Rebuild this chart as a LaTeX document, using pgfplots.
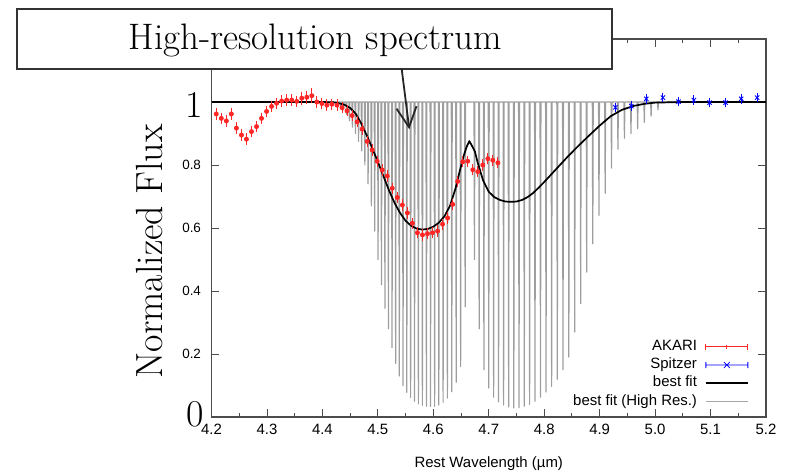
\documentclass[border=0pt]{standalone}
\usepackage{fontspec}
\usepackage{pgfplots}
\pgfplotsset{compat=1.18}
\usetikzlibrary{arrows.meta}
\newfontfamily\hv{Liberation Sans}
\pgfplotstableread{
x y e
4.2086 0.962 0.010
4.2177 0.948 0.010
4.2268 0.940 0.010
4.2358 0.962 0.011
4.2449 0.917 0.010
4.2540 0.895 0.010
4.2630 0.882 0.011
4.2721 0.906 0.010
4.2812 0.922 0.010
4.2902 0.948 0.010
4.2993 0.970 0.010
4.3084 0.986 0.010
4.3174 0.996 0.010
4.3265 1.003 0.010
4.3356 1.006 0.010
4.3447 1.006 0.010
4.3537 1.002 0.010
4.3628 1.012 0.013
4.3719 1.015 0.013
4.3809 1.020 0.015
4.3900 1.000 0.010
4.3991 0.995 0.010
4.4081 0.990 0.010
4.4172 0.993 0.010
4.4263 0.990 0.010
4.4354 0.982 0.010
4.4444 0.972 0.010
4.4535 0.957 0.010
4.4626 0.937 0.010
4.4716 0.914 0.010
4.4807 0.875 0.010
4.4898 0.848 0.010
4.4988 0.812 0.010
4.5079 0.784 0.010
4.5170 0.765 0.010
4.5260 0.726 0.010
4.5351 0.697 0.010
4.5442 0.673 0.010
4.5533 0.648 0.010
4.5623 0.615 0.010
4.5714 0.585 0.010
4.5805 0.578 0.010
4.5895 0.582 0.010
4.5986 0.585 0.010
4.6077 0.590 0.010
4.6167 0.612 0.010
4.6258 0.632 0.010
4.6349 0.675 0.010
4.6439 0.748 0.010
4.6530 0.810 0.010
4.6621 0.812 0.010
4.6712 0.785 0.010
4.6802 0.779 0.010
4.6893 0.800 0.010
4.6984 0.820 0.010
4.7074 0.815 0.010
4.7165 0.807 0.010
}\akari
\pgfplotstableread{
x y e
4.9283 0.983 0.007
4.9571 0.987 0.007
4.9841 1.010 0.007
5.0141 1.014 0.007
5.0423 1.001 0.007
5.0699 1.006 0.007
5.0982 0.998 0.007
5.1270 0.998 0.007
5.1553 1.010 0.007
5.1841 1.014 0.007
}\spitzer
\begin{document}
\begin{tikzpicture}
\useasboundingbox (-211.5bp,-54bp) rectangle (574.5bp,417bp);
\begin{axis}[
  at={(0,0)}, anchor=south west,
  scale only axis, width=554.5bp, height=378bp,
  xmin=4.2, xmax=5.2, ymin=0, ymax=1.2,
  xtick={4.2,4.3,4.4,4.5,4.6,4.7,4.8,4.9,5.0,5.1,5.2},
  xticklabels={4.2,4.3,4.4,4.5,4.6,4.7,4.8,4.9,5.0,5.1,5.2},
  minor xtick={4.25,4.35,4.45,4.55,4.65,4.75,4.85,4.95,5.05,5.15},
  ytick={0,0.2,0.4,0.6,0.8,1,1.2},
  yticklabels={{},0.2,0.4,0.6,0.8,{},{}},
  /pgf/number format/assume math mode=true,
  xticklabel style={font=\hv\fontsize{15}{17}\selectfont, yshift=-4bp},
  yticklabel style={font=\hv\fontsize{13.5}{15}\selectfont, xshift=-7bp},
  major tick length=8bp, minor tick length=4bp,
  axis line style={black!70, line width=1.1bp},
  tick style={black!70, line width=0.9bp},
  xlabel={Rest Wavelength (µm)},
  xlabel style={font=\hv\fontsize{15}{17}\selectfont, at={(axis description cs:0.5,0)}, anchor=base, yshift=-50bp},
  legend plot pos=right, legend cell align=right,
  legend style={draw=none, fill=none, at={(0.9693,0.2063)}, anchor=north east,
    font=\hv\fontsize{15}{17}\selectfont, row sep=3.3bp, column sep=7bp, inner sep=0pt,
    nodes={inner sep=1bp, text height=10bp, text depth=3bp}},
]
\addplot[black!38, line width=1.2bp, line join=round, line cap=round, forget plot] coordinates {
(4.2,1) (4.4271,1) (4.4279,0.990) (4.4287,1)
(4.4322,1) (4.4330,0.985) (4.4338,1)
(4.4374,1) (4.4382,0.975) (4.4390,1)
(4.4426,1) (4.4434,0.960) (4.4442,1)
(4.4479,1) (4.4487,0.940) (4.4495,1)
(4.4533,1) (4.4541,0.920) (4.4549,1)
(4.4588,1) (4.4596,0.900) (4.4604,1)
(4.4644,1) (4.4652,0.875) (4.4660,1)
(4.4700,1) (4.4708,0.845) (4.4716,1)
(4.4758,1) (4.4766,0.800) (4.4774,1)
(4.4816,1) (4.4824,0.740) (4.4832,1)
(4.4875,1) (4.4883,0.670) (4.4891,1)
(4.4935,1) (4.4943,0.590) (4.4951,1)
(4.4996,1) (4.5004,0.500) (4.5012,1)
(4.5057,1) (4.5065,0.420) (4.5073,1)
(4.5120,1) (4.5128,0.345) (4.5136,1)
(4.5183,1) (4.5191,0.280) (4.5199,1)
(4.5248,1) (4.5256,0.220) (4.5264,1)
(4.5313,1) (4.5321,0.170) (4.5329,1)
(4.5379,1) (4.5387,0.130) (4.5395,1)
(4.5446,1) (4.5454,0.100) (4.5462,1)
(4.5514,1) (4.5522,0.078) (4.5530,1)
(4.5583,1) (4.5591,0.062) (4.5599,1)
(4.5653,1) (4.5661,0.050) (4.5669,1)
(4.5723,1) (4.5731,0.042) (4.5739,1)
(4.5795,1) (4.5803,0.037) (4.5811,1)
(4.5868,1) (4.5876,0.034) (4.5884,1)
(4.5942,1) (4.5950,0.033) (4.5958,1)
(4.6016,1) (4.6024,0.034) (4.6032,1)
(4.6092,1) (4.6100,0.038) (4.6108,1)
(4.6169,1) (4.6177,0.046) (4.6185,1)
(4.6246,1) (4.6254,0.060) (4.6262,1)
(4.6325,1) (4.6333,0.080) (4.6341,1)
(4.6405,1) (4.6413,0.110) (4.6421,1)
(4.6485,1) (4.6493,0.160) (4.6501,1)
(4.6567,1) (4.6575,0.350) (4.6583,1)
(4.6734,1) (4.6742,0.500) (4.6750,1)
(4.6819,1) (4.6827,0.280) (4.6835,1)
(4.6905,1) (4.6913,0.150) (4.6921,1)
(4.6992,1) (4.7000,0.092) (4.7008,1)
(4.7080,1) (4.7088,0.063) (4.7096,1)
(4.7169,1) (4.7177,0.048) (4.7185,1)
(4.7260,1) (4.7268,0.038) (4.7276,1)
(4.7351,1) (4.7359,0.032) (4.7367,1)
(4.7444,1) (4.7452,0.029) (4.7460,1)
(4.7538,1) (4.7546,0.030) (4.7554,1)
(4.7633,1) (4.7641,0.034) (4.7649,1)
(4.7729,1) (4.7737,0.040) (4.7745,1)
(4.7826,1) (4.7834,0.050) (4.7842,1)
(4.7925,1) (4.7933,0.063) (4.7941,1)
(4.8025,1) (4.8033,0.079) (4.8041,1)
(4.8126,1) (4.8134,0.097) (4.8142,1)
(4.8228,1) (4.8236,0.120) (4.8244,1)
(4.8331,1) (4.8339,0.150) (4.8347,1)
(4.8436,1) (4.8444,0.190) (4.8452,1)
(4.8542,1) (4.8550,0.270) (4.8558,1)
(4.8650,1) (4.8658,0.360) (4.8666,1)
(4.8758,1) (4.8766,0.460) (4.8774,1)
(4.8868,1) (4.8876,0.550) (4.8884,1)
(4.8980,1) (4.8988,0.640) (4.8996,1)
(4.9092,1) (4.9100,0.710) (4.9108,1)
(4.9206,1) (4.9214,0.790) (4.9222,1)
(4.9322,1) (4.9330,0.850) (4.9338,1)
(4.9439,1) (4.9447,0.885) (4.9455,1)
(4.9557,1) (4.9565,0.900) (4.9573,1)
(4.9677,1) (4.9685,0.915) (4.9693,1)
(4.9798,1) (4.9806,0.935) (4.9814,1)
(4.9920,1) (4.9928,0.955) (4.9936,1)
(5.0044,1) (5.0052,0.975) (5.0060,1)
(5.2,1)
};
\addplot[black, line width=1.7bp, line join=round, forget plot] coordinates {
(4.20,1.000) (4.40,1.000) (4.42,0.999) (4.43,0.996) (4.44,0.991) (4.45,0.981)
(4.46,0.963) (4.47,0.932) (4.48,0.894) (4.49,0.853) (4.50,0.810) (4.51,0.765)
(4.52,0.720) (4.53,0.680) (4.54,0.648) (4.55,0.623) (4.56,0.607) (4.57,0.598)
(4.58,0.595) (4.59,0.597) (4.60,0.604) (4.61,0.617) (4.62,0.637) (4.63,0.670)
(4.64,0.725) (4.65,0.797) (4.655,0.830) (4.66,0.857) (4.665,0.876) (4.670,0.860)
(4.675,0.843) (4.68,0.808) (4.69,0.750) (4.70,0.715) (4.71,0.698) (4.72,0.689)
(4.73,0.684) (4.74,0.683) (4.75,0.684) (4.76,0.689) (4.77,0.698) (4.78,0.711)
(4.79,0.728) (4.80,0.746) (4.82,0.784) (4.84,0.822) (4.86,0.858) (4.88,0.892)
(4.90,0.925) (4.92,0.955) (4.94,0.975) (4.96,0.987) (4.98,0.994) (5.00,0.998)
(5.05,1.000) (5.20,1.000)
};
\addplot[red!85, line width=0.9bp, only marks, mark=none,
  legend image code/.code={\path (0bp,-5bp) (0bp,5bp);
    \draw[red!85, line width=0.9bp] (0bp,0bp) -- (42bp,0bp) (0bp,-3bp) -- (0bp,3bp) (42bp,-3bp) -- (42bp,3bp) (21bp,-2bp) -- (21bp,2bp);},
  error bars/.cd, y dir=both, y explicit,
  error bar style={red!85, line width=0.9bp},
  error mark options={red!85, line width=0.9bp, mark size=2.5bp}]
  table[x=x, y=y, y error=e] {\akari};
\addlegendentry{AKARI}
\addplot[blue, line width=0.8bp, only marks, mark=x, mark size=3bp, mark options={blue, line width=0.9bp},
  legend image code/.code={\path (0bp,-5bp) (0bp,5bp);
    \draw[blue, line width=0.8bp] (0bp,0bp) -- (42bp,0bp) (0bp,-3bp) -- (0bp,3bp) (42bp,-3bp) -- (42bp,3bp) (18bp,-3bp) -- (24bp,3bp) (18bp,3bp) -- (24bp,-3bp);},
  error bars/.cd, y dir=both, y explicit,
  error bar style={blue, line width=0.9bp},
  error mark options={blue, line width=0.9bp, mark size=2.5bp}]
  table[x=x, y=y, y error=e] {\spitzer};
\addlegendentry{Spitzer}
\addlegendimage{legend image code/.code={\path (0bp,-5bp) (0bp,5bp); \draw[black, line width=1.8bp] (0bp,0bp) -- (42bp,0bp);}}
\addlegendentry{best fit}
\addlegendimage{legend image code/.code={\path (0bp,-5bp) (0bp,5bp); \draw[black!35, line width=1bp] (0bp,0bp) -- (42bp,0bp);}}
\addlegendentry{best fit (High Res.)}
\end{axis}
\draw[black!80, line width=1.4bp, fill=white] (-194.5bp,348bp) rectangle (400.5bp,408bp);
\node[anchor=base, font=\fontsize{37}{42}\selectfont, inner sep=0pt] at (104bp,367bp) {High-resolution spectrum};
\draw[black!85, line width=1.8bp, -{Straight Barb[length=20bp, width=20bp]}] (190.2bp,348bp) -- (197.8bp,287.7bp);
\node[rotate=90, font=\fontsize{38}{42}\selectfont, inner sep=0pt] at (-62bp,165.5bp) {Normalized Flux};
\node[font=\fontsize{38}{40}\selectfont, inner sep=0pt] at (-17bp,312.5bp) {1};
\node[font=\fontsize{38}{40}\selectfont, inner sep=0pt] at (-16.5bp,2.5bp) {0};
\end{tikzpicture}
\end{document}
